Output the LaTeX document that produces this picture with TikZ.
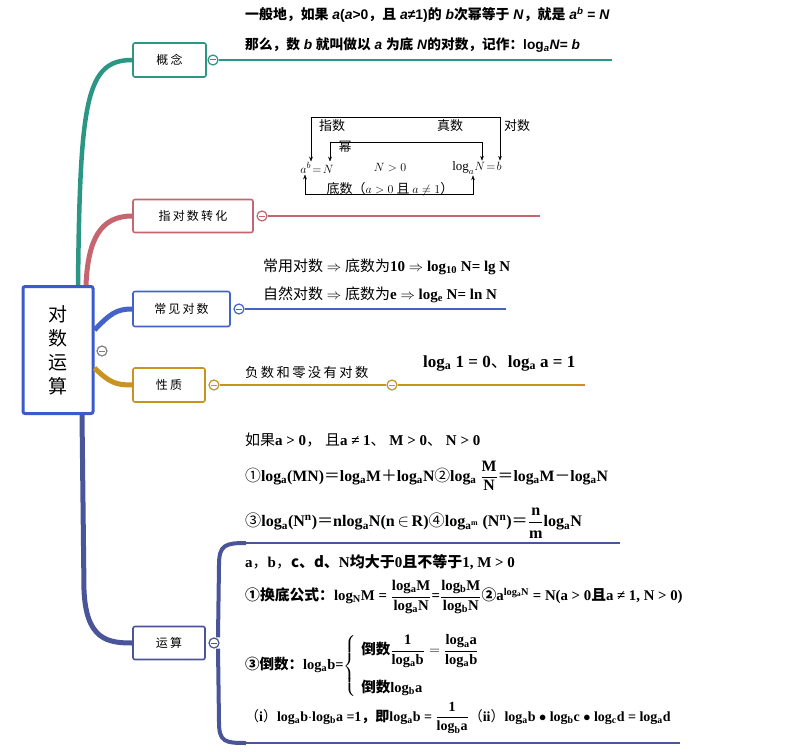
\documentclass[tikz,border=0pt]{standalone}
\usepackage{amsmath}
\usepackage{fontspec}
\setmainfont{Liberation Serif}
\newfontfamily\cjk{Noto Sans CJK SC}
\newfontfamily\cjkw{Noto Sans CJK SC}[LetterSpace=18]
\newfontfamily\lsans{Liberation Sans}
\usepackage{tikz}
\usetikzlibrary{arrows.meta}
\usepackage{xcolor}
\definecolor{gnteal}{HTML}{2B9683}
\definecolor{zhred}{HTML}{C46570}
\definecolor{cjblue}{HTML}{4463C9}
\definecolor{xzgold}{HTML}{C99320}
\definecolor{ysslate}{HTML}{4A5498}
\definecolor{rootblue}{HTML}{3B5BC9}
\newcommand{\zh}[1]{{\cjk\mdseries #1}}
\newcommand{\zb}[1]{{\cjk\bfseries #1}}
\newcommand{\lgs}[1]{log\textsubscript{#1}}

\begin{document}
\begin{tikzpicture}[x=1pt,y=-1pt,
  topic/.style={draw, line width=1.6pt, rounded corners=2pt, fill=white, minimum height=34pt, font=\cjkw\fontsize{12}{14}\selectfont},
  fold/.style={circle, draw, fill=white, line width=1.2pt, inner sep=0pt, minimum size=10pt,
    path picture={\draw[line width=1pt] ([xshift=-2.6pt]path picture bounding box.center) -- ([xshift=2.6pt]path picture bounding box.center);}},
  txt/.style={anchor=west, inner sep=0pt, font=\bfseries\fontsize{14}{16}\selectfont},
  lbl/.style={inner sep=1pt, font=\cjk\fontsize{13}{15}\selectfont}]
\useasboundingbox (0,0) rectangle (787,752);

% topics
\node[topic, draw=rootblue, line width=3pt, minimum width=70pt, minimum height=127pt, align=center,
  font=\cjk\fontsize{19}{24}\selectfont] (root) at (58,350) {对\\数\\运\\算};
\node[topic, draw=gnteal, minimum width=73pt] (gainian) at (169.5,60) {概念};
\node[topic, draw=zhred, minimum width=120pt, minimum height=33pt] (zhuanhua) at (193,216) {指对数转化};
\node[topic, draw=cjblue, minimum width=97pt, minimum height=35pt] (changjian) at (181.5,309) {常见对数};
\node[topic, draw=xzgold, minimum width=72pt] (xingzhi) at (169,385) {性质};
\node[topic, draw=ysslate, minimum width=72pt, minimum height=33pt] (yunsuan) at (169,643) {运算};

\node[fold, draw=gray] (froot) at (102,351) {};
\node[fold, draw=gnteal] (fgn) at (213,60) {};
\node[fold, draw=zhred] (fzh) at (262,216) {};
\node[fold, draw=cjblue] (fcj) at (239,309) {};
\node[fold, draw=xzgold] (fxz) at (214,385) {};
\node[fold, draw=xzgold] (fxz2) at (392,385) {};
\node[fold, draw=ysslate] (fys) at (214,643) {};

\coordinate (egn) at (612,60);
\coordinate (ezh) at (540,216);
\coordinate (ecj) at (506,309);
\coordinate (exz) at (585,385);
\coordinate (eys1) at (620,543);
\coordinate (eys2) at (680,743);

% branches
\draw[gnteal, line width=4.5pt] ([xshift=20pt]root.north) .. controls (80,100) and (86,60) .. (gainian.west);
\draw[zhred, line width=5pt] ([xshift=28pt]root.north) .. controls (88,240) and (100,216) .. (zhuanhua.west);
\draw[cjblue, line width=5pt] ([yshift=20pt]root.east) .. controls (110,314) and (116,309) .. (changjian.west);
\draw[xzgold, line width=5pt] ([yshift=-18pt]root.east) .. controls (110,383) and (116,385) .. (xingzhi.west);
\draw[ysslate, line width=5pt] ([xshift=24pt]root.south) -- (84,590) .. controls (86,640) and (108,643) .. (yunsuan.west);

\draw[gnteal, line width=2.6pt] (fgn) -- (egn);
\draw[zhred, line width=2.6pt] (fzh) -- (ezh);
\draw[cjblue, line width=2.2pt] (fcj) -- (ecj);
\draw[xzgold, line width=2.6pt] (fxz) -- (fxz2);
\draw[xzgold, line width=2.6pt] (fxz2) -- (exz);
\draw[ysslate, line width=4pt] (fys.north) ++(4pt,0) -- (219,565) .. controls (219,545) and (225,543) .. (246,543);
\draw[ysslate, line width=4pt] (fys.south) ++(4pt,0) -- (219,722) .. controls (219,742) and (225,743) .. (246,743);
\draw[ysslate, line width=2.6pt] (244,543) -- (eys1);
\draw[ysslate, line width=2.6pt] (244,743) -- (eys2);

% 概念
\node[txt, font=\lsans\bfseries\fontsize{13.9}{16}\selectfont] (def1) at (245,15) {\zb{一般地，如果} \textit{a}(\textit{a}>0\zb{，且} \textit{a}≠1)\zb{的} \textit{b}\zb{次幂等于} \textit{N}\zb{，就是} \textit{a}\textsuperscript{\textit{b}} = \textit{N}};
\node[txt, font=\lsans\bfseries\fontsize{13.7}{16}\selectfont] (def2) at (245,45) {\zb{那么，数} \textit{b} \zb{就叫做以} \textit{a} \zb{为底} \textit{N}\zb{的对数，记作：}log\textsubscript{\textit{a}}\textit{N}= \textit{b}};

% 指对数转化
\node[lbl] (ab) at (317,168) {$a^b\!=\!N$};
\node[lbl] (ngt) at (390,168) {$N>0$};
\node[lbl] (logN) at (477,168) {$\log_a\!N\!=\!b$};
\draw[-Stealth] ([xshift=-6pt]ab.north) ++(0,-44) coordinate (t1) -- ([xshift=-6pt]ab.north);
\draw[-Stealth] (t1) -| ([xshift=23pt]logN.north);
\draw[-Stealth] ([xshift=13pt]ab.north) ++(0,-19) coordinate (t2) -- ([xshift=13pt]ab.north);
\draw[-Stealth] (t2) -| ([xshift=5pt]logN.north);
\draw[-Stealth] ([xshift=-12pt]ab.south) ++(0,20) coordinate (t3) -- ([xshift=-12pt]ab.south);
\draw[-Stealth] (t3) -| ([xshift=-4pt]logN.south);
\node[lbl] (zhishu) at (332,126) {指数};
\node[lbl] (zhenshu) at (450,126) {真数};
\node[lbl] (duishu) at (517,126) {对数};
\node[lbl] (mi) at (345,147) {幂};
\node[lbl] (dishu) at (390,189) {底数（$a>0$ 且 $a\neq1$）};

% 常见对数
\node[txt, font=\bfseries\fontsize{15}{17}\selectfont] (cy) at (263,267) {\zh{常用对数} $\Rightarrow$ \zh{底数为}10 $\Rightarrow$ \lgs{10} N= lg N};
\node[txt, font=\bfseries\fontsize{15}{17}\selectfont] (zr) at (263,295) {\zh{自然对数} $\Rightarrow$ \zh{底数为}e $\Rightarrow$ \lgs{e} N= ln N};

% 性质
\node[txt, font=\cjkw\fontsize{13.3}{15}\selectfont] (fs) at (245,372) {负数和零没有对数};
\node[txt, font=\bfseries\fontsize{17}{20}\selectfont] (ll) at (423,363) {\lgs{a} 1 = 0\zh{、}\lgs{a} a = 1};
\node[txt, font=\bfseries\fontsize{15}{17}\selectfont] (rg) at (245,440) {\zh{如果}a > 0\zh{，} \zh{且}a ≠ 1\zh{、} M > 0\zh{、} N > 0};
\node[txt, font=\bfseries\fontsize{15.8}{18}\selectfont] (p12) at (245,476) {\zh{①}\lgs{a}(MN)\zh{＝}\lgs{a}M\zh{＋}\lgs{a}N\zh{②}\lgs{a} $\dfrac{\text{M}}{\text{N}}$\zh{＝}\lgs{a}M\zh{－}\lgs{a}N};
\node[txt, font=\bfseries\fontsize{16.1}{18}\selectfont] (p34) at (245,523) {\zh{③}\lgs{a}(N\textsuperscript{n})\zh{＝}n\lgs{a}N(n\,$\in$\,R)\zh{④}\lgs{a\textsuperscript{m}} (N\textsuperscript{n})\zh{＝}$\dfrac{\text{n}}{\text{m}}$\lgs{a}N};

% 运算
\node[txt, font=\bfseries\fontsize{15}{18}\selectfont] (ys0) at (245,562) {a\zh{，}b\zh{，}\zb{c、d、}N\zb{均大于}0\zb{且不等于}1, M > 0};
\node[txt, font=\bfseries\fontsize{14.8}{17}\selectfont] (ys1) at (245,597) {\zb{①换底公式：}\lgs{N}M = $\dfrac{\text{\lgs{a}M}}{\text{\lgs{a}N}}$=$\dfrac{\text{\lgs{b}M}}{\text{\lgs{b}N}}$\zb{②}a\textsuperscript{\lgs{a}N} = N(a > 0\zb{且}a ≠ 1, N > 0)};
\node[txt, font=\bfseries\fontsize{14.5}{17}\selectfont] (ys2) at (245,666) {\zb{③倒数：}\lgs{a}b=$\left\{\begin{array}{l}\text{\zb{倒数}}\dfrac{\text{1}}{\text{\lgs{a}b}}=\dfrac{\text{\lgs{a}a}}{\text{\lgs{a}b}}\\[20pt]\text{\zb{倒数}\lgs{b}a}\end{array}\right.$};
\node[txt, font=\bfseries\fontsize{14}{17}\selectfont] (ys3) at (245,718) {\zh{（}i\zh{）}\lgs{a}b$\cdot$\lgs{b}a =1\zb{，即}\lgs{a}b = $\dfrac{\text{1}}{\text{\lgs{b}a}}$\zh{（}ii\zh{）}\lgs{a}b $\bullet$ \lgs{b}c $\bullet$ \lgs{c}d = \lgs{a}d};
\end{tikzpicture}
\end{document}
